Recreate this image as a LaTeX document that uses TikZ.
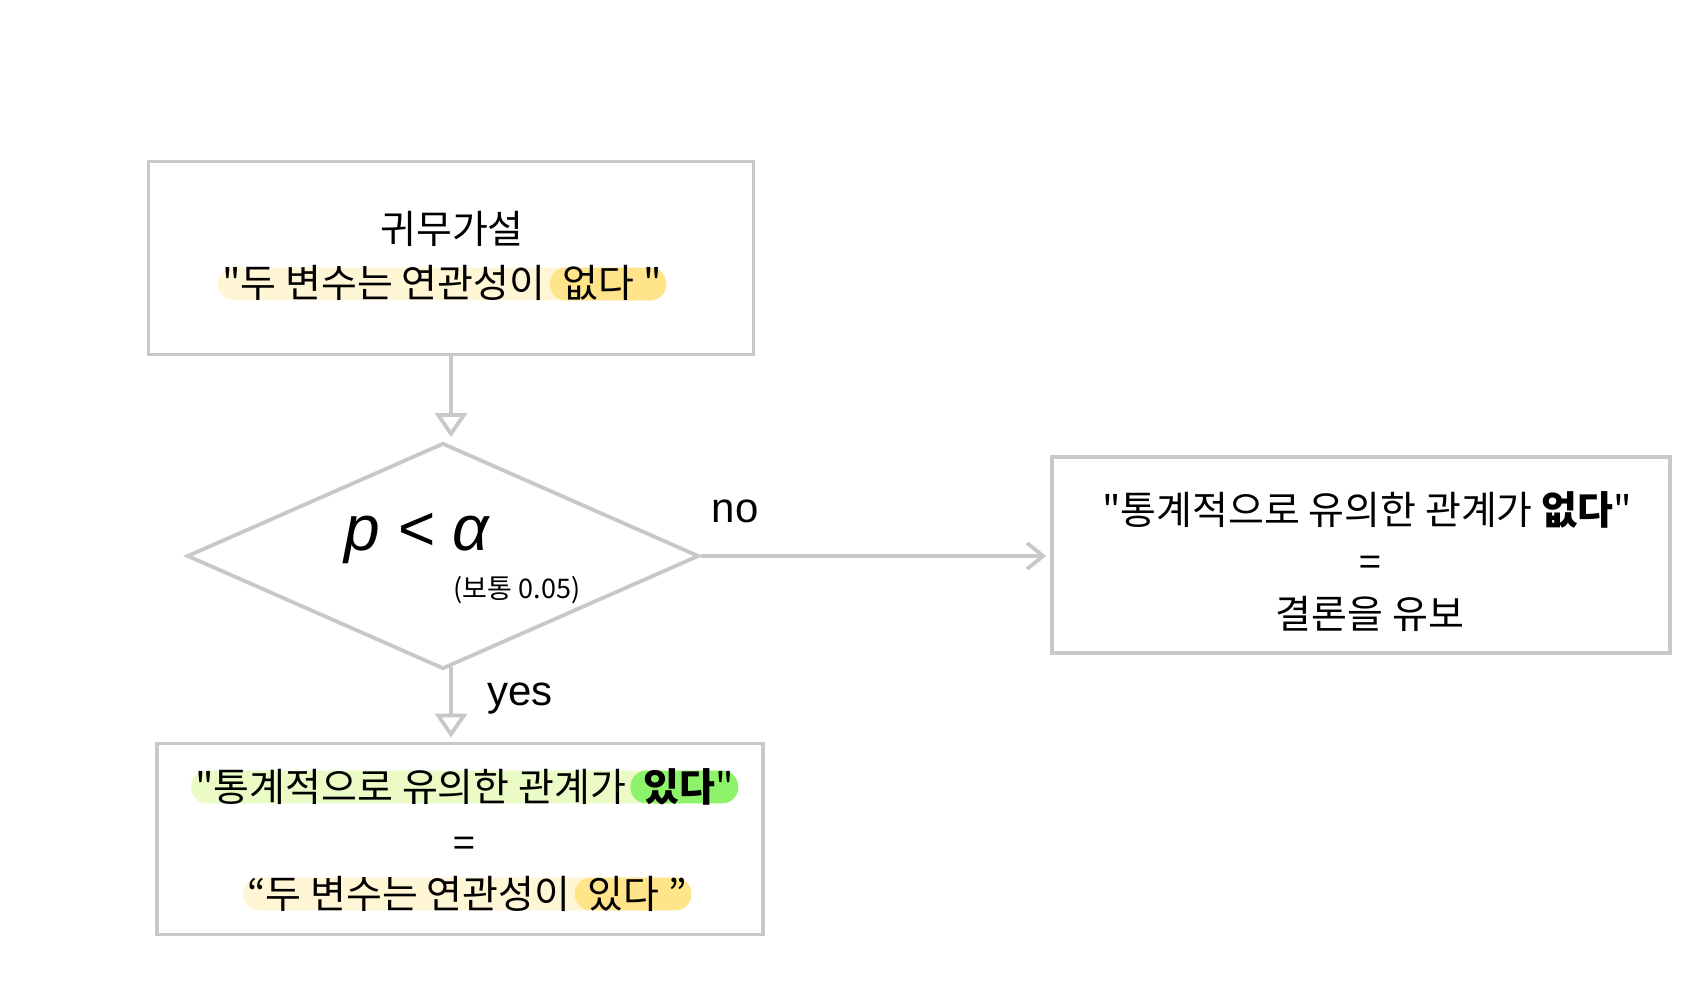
\documentclass[tikz,border=0pt]{standalone}
\usepackage{fontspec}
\newfontfamily\krfont{Noto Sans CJK KR}
\newfontfamily\latinfont{Liberation Sans}
\usetikzlibrary{positioning,shapes.geometric,arrows.meta,backgrounds}
\definecolor{linegray}{HTML}{C8C8C8}
\definecolor{hlyellow}{HTML}{FFF6D6}
\definecolor{hlyellowdark}{HTML}{FFE48A}
\definecolor{hlgreen}{HTML}{EBFBC6}
\definecolor{hlgreendark}{HTML}{8DF36A}
\tikzset{
  box/.style={draw=linegray, line width=1.9pt, inner sep=0pt},
  kr/.style={font=\krfont\fontsize{19.5}{23}\selectfont, inner sep=0pt},
  hl/.style={kr, inner xsep=2pt, inner ysep=0pt, text height=15pt, text depth=1pt},
  lbl/.style={font=\latinfont\fontsize{21}{25}\selectfont, inner sep=0pt},
  flow/.style={draw=linegray, line width=1.9pt, shorten >=2pt},
  pill/.style={rounded corners=8pt}
}

\begin{document}
\begin{tikzpicture}[x=0.5pt,y=0.5pt,yscale=-1,xscale=1]
	\useasboundingbox (0,0) rectangle (1704,1000);
	% boxes
	\node[box, minimum width=302.5pt, minimum height=96.5pt] (nullbox) at (451,258) {};
	\node[box, shape=diamond, minimum width=256pt, minimum height=113pt] (test) at (443,556) {};
	\node[box, minimum width=309pt, minimum height=98pt] (nobox) at (1361,555) {};
	\node[box, minimum width=303pt, minimum height=95.5pt] (yesbox) at (460,839) {};

	% null hypothesis
	\node[kr, anchor=base] (nulltitle) at (452,244) {귀무가설};
	\node[hl, anchor=base west] (nulla) at (218,298) {"두 변수는 연관성이};
	\node[hl, base right=0pt of nulla] (nullb) {\ 없다 "};

	% test
	\node[anchor=base, inner sep=0pt, font=\latinfont\itshape\fontsize{32}{38}\selectfont] (ptest) at (417,550) {p < α};
	\node[kr, font=\krfont\fontsize{13.5}{16}\selectfont] (usual) at (517,590) {(보통 0.05)};
	\node[lbl, anchor=base] (nolabel) at (735,522) {no};
	\node[lbl, anchor=base] (yeslabel) at (520,705) {yes};

	% no
	\node[kr, anchor=base] (noa) at (1367,524) {"통계적으로 유의한 관계가 \textbf{없다}"};
	\node[kr] (noeq) at (1370,566) {=};
	\node[kr, anchor=base] (noc) at (1370,628) {결론을 유보};

	% yes
	\node[hl, anchor=base west] (yesa) at (191,801) {"통계적으로 유의한 관계가};
	\node[hl, base right=0pt of yesa] (yesb) {\ \textbf{있다}"};
	\node[kr] (yeseq) at (464,847) {=};
	\node[hl, anchor=base west] (yesc) at (243,908) {“두 변수는 연관성이};
	\node[hl, base right=0pt of yesc] (yesd) {\ 있다 ”};

	% arrows
	\draw[flow, -{Triangle[open, length=12pt, width=16pt]}] (nullbox.south) -- (nullbox.south |- test.north);
	\draw[flow, -{Triangle[open, length=12pt, width=16pt]}] ([yshift=-2pt]nullbox.south |- test.south) -- (nullbox.south |- yesbox.north);
	\draw[flow, -{Straight Barb[length=8pt, width=13pt]}] (test.east) -- (test.east -| nobox.west);

	% highlights
	\begin{scope}[on background layer]
		\fill[white] (0,0) rectangle (1704,1000);
		\fill[hlyellow, pill] (nulla.south west) rectangle (nullb.north east);
		\fill[hlyellowdark, pill] (nullb.south west) rectangle (nullb.north east);
		\fill[hlgreen, pill] (yesa.south west) rectangle (yesb.north east);
		\fill[hlgreendark, pill] (yesb.south west) rectangle (yesb.north east);
		\fill[hlyellow, pill] (yesc.south west) rectangle (yesd.north east);
		\fill[hlyellowdark, pill] (yesd.south west) rectangle (yesd.north east);
	\end{scope}
\end{tikzpicture}
\end{document}
